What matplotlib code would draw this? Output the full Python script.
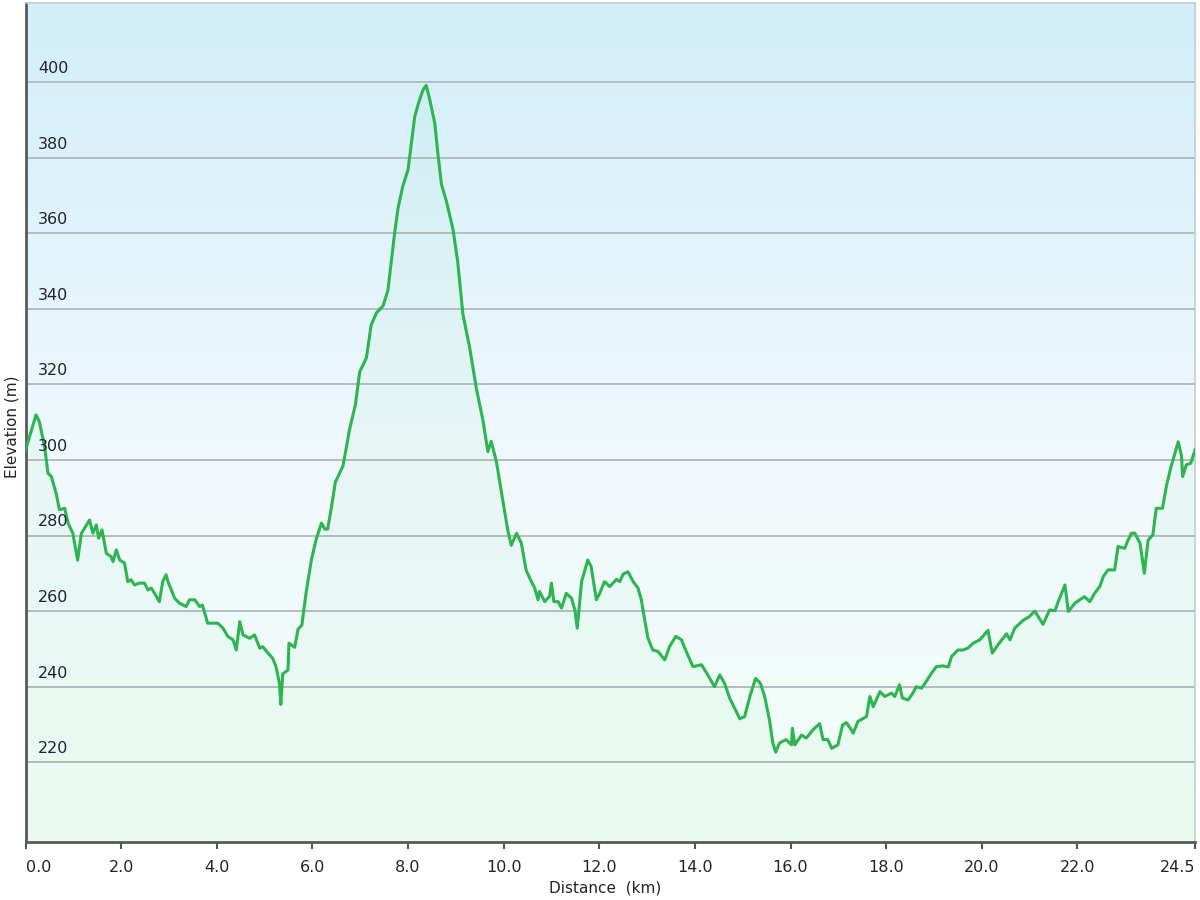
import numpy as np
import matplotlib.pyplot as plt
from matplotlib.colors import LinearSegmentedColormap
from matplotlib.transforms import blended_transform_factory

# elevation profile
dist_km = [0.00, 0.22, 0.29, 0.40, 0.47, 0.54, 0.64, 0.71, 0.82, 0.89, 0.99, 1.09, 1.17, 1.34, 1.41,
           1.48, 1.53, 1.60, 1.69, 1.79, 1.83, 1.90, 1.97, 2.07, 2.14, 2.21, 2.28, 2.38, 2.49, 2.56,
           2.63, 2.70, 2.80, 2.87, 2.94, 2.98, 3.12, 3.22, 3.36, 3.43, 3.54, 3.64, 3.70, 3.81, 4.02,
           4.13, 4.23, 4.34, 4.41, 4.48, 4.55, 4.69, 4.79, 4.90, 4.96, 5.07, 5.17, 5.24, 5.31, 5.34,
           5.38, 5.49, 5.51, 5.63, 5.70, 5.78, 5.87, 5.98, 6.08, 6.19, 6.26, 6.32, 6.40, 6.48, 6.64,
           6.78, 6.90, 6.99, 7.13, 7.23, 7.34, 7.48, 7.58, 7.72, 7.79, 7.89, 8.00, 8.07, 8.14, 8.21,
           8.31, 8.38, 8.45, 8.56, 8.63, 8.70, 8.80, 8.94, 9.04, 9.15, 9.29, 9.43, 9.57, 9.67, 9.74,
           9.85, 9.99, 10.09, 10.16, 10.27, 10.37, 10.47, 10.58, 10.65, 10.72, 10.75, 10.86, 10.96, 11.00, 11.05,
           11.14, 11.21, 11.31, 11.42, 11.49, 11.54, 11.63, 11.76, 11.83, 11.94, 12.01, 12.11, 12.22, 12.36, 12.43,
           12.50, 12.60, 12.71, 12.81, 12.88, 12.95, 13.02, 13.12, 13.23, 13.37, 13.47, 13.60, 13.72, 13.82, 13.96,
           14.14, 14.27, 14.41, 14.52, 14.62, 14.73, 14.83, 14.94, 15.04, 15.15, 15.27, 15.37, 15.46, 15.56, 15.63,
           15.69, 15.77, 15.91, 16.02, 16.04, 16.09, 16.23, 16.33, 16.47, 16.61, 16.68, 16.78, 16.86, 16.99, 17.09,
           17.17, 17.27, 17.31, 17.41, 17.59, 17.66, 17.73, 17.87, 17.97, 18.11, 18.18, 18.28, 18.34, 18.46, 18.56,
           18.63, 18.74, 18.84, 18.95, 19.05, 19.19, 19.30, 19.37, 19.50, 19.61, 19.71, 19.82, 19.96, 20.13, 20.22,
           20.34, 20.52, 20.59, 20.69, 20.86, 21.00, 21.11, 21.28, 21.42, 21.53, 21.60, 21.74, 21.81, 21.95, 22.05,
           22.15, 22.26, 22.36, 22.47, 22.54, 22.64, 22.78, 22.85, 22.99, 23.06, 23.13, 23.20, 23.31, 23.40, 23.48,
           23.58, 23.65, 23.78, 23.86, 23.95, 24.04, 24.11, 24.18, 24.20, 24.28, 24.37, 24.46]
elev_m = [302.6, 311.9, 310.1, 303.5, 296.5, 295.6, 291.2, 286.8, 287.2, 283.3, 280.6, 273.5, 280.6, 284.1, 280.6,
          282.8, 279.3, 281.5, 275.3, 274.4, 273.1, 276.2, 273.5, 272.7, 267.8, 268.3, 266.9, 267.4, 267.4, 265.6,
          266.1, 264.7, 262.5, 267.8, 269.6, 267.8, 263.4, 262.1, 261.2, 263.0, 263.0, 261.2, 261.6, 256.8, 256.8,
          255.5, 253.3, 252.4, 249.7, 257.2, 253.7, 252.8, 253.7, 250.2, 250.6, 248.9, 247.5, 245.3, 240.9, 235.3,
          243.4, 244.4, 251.5, 250.4, 255.2, 256.3, 265.0, 273.6, 279.0, 283.3, 281.7, 281.7, 287.6, 294.1, 298.4,
          308.2, 314.6, 323.3, 327.0, 335.7, 338.9, 340.8, 344.9, 360.0, 366.5, 372.4, 376.7, 383.7, 390.8, 394.0,
          397.8, 399.1, 395.6, 389.1, 380.5, 372.9, 368.6, 361.1, 352.4, 338.4, 329.7, 318.9, 310.3, 302.2, 304.9,
          299.5, 288.7, 281.2, 277.4, 280.6, 278.0, 270.9, 267.8, 266.1, 263.0, 265.2, 262.5, 263.9, 267.4, 262.5,
          262.5, 260.8, 264.7, 263.4, 260.3, 255.5, 267.8, 273.5, 271.8, 263.0, 264.7, 267.8, 266.5, 268.4, 267.8,
          269.8, 270.4, 267.8, 266.1, 263.0, 257.7, 252.8, 249.7, 249.3, 247.1, 250.6, 253.3, 252.4, 249.3, 245.3,
          245.8, 243.1, 240.0, 243.1, 240.9, 236.9, 234.3, 231.5, 232.1, 237.4, 242.2, 240.9, 237.4, 231.2, 225.1,
          222.7, 225.1, 226.0, 224.6, 229.0, 224.6, 227.2, 226.4, 228.6, 230.2, 226.0, 226.0, 223.7, 224.6, 229.9,
          230.5, 228.6, 227.7, 230.8, 232.1, 237.4, 234.7, 238.7, 237.4, 238.3, 237.4, 240.5, 237.0, 236.5, 238.3,
          240.0, 239.6, 241.4, 243.6, 245.3, 245.5, 245.2, 248.0, 249.7, 249.7, 250.2, 251.5, 252.4, 254.9, 248.9,
          251.1, 254.0, 252.4, 255.5, 257.5, 258.6, 260.0, 256.5, 260.3, 260.1, 262.5, 266.9, 259.9, 262.1, 263.0,
          263.8, 262.5, 264.7, 266.5, 269.1, 270.9, 270.9, 277.1, 276.6, 278.8, 280.6, 280.6, 278.0, 270.0, 278.8,
          280.2, 287.2, 287.2, 293.0, 297.8, 301.8, 304.8, 300.9, 295.6, 298.7, 299.1, 302.6]

xticks = [0, 2, 4, 6, 8, 10, 12, 14, 16, 18, 20, 22, 24.46]
xticklabels = ['0.0', '2.0', '4.0', '6.0', '8.0', '10.0', '12.0', '14.0', '16.0', '18.0', '20.0', '22.0', '24.5']
yticks = [220, 240, 260, 280, 300, 320, 340, 360, 380, 400]

fig = plt.figure(figsize=(12, 9), dpi=100)
ax = fig.add_axes([25.5 / 1200, 58 / 900, 1169.5 / 1200, 839 / 900])
ax.set_xlim(0, 24.46)
ax.set_ylim(198.9, 420.9)

# background gradient: light blue on top, near white middle, mint at bottom
bg = LinearSegmentedColormap.from_list('bg', [(0.0, '#f2fdf6'), (0.45, '#f1f9fd'), (1.0, '#d1eef9')])
grad = np.linspace(0, 1, 256).reshape(-1, 1)
ax.imshow(grad, extent=[0, 1, 0, 1], transform=ax.transAxes, origin='lower',
          aspect='auto', cmap=bg, zorder=0)

ax.set_yticks(yticks)
ax.grid(axis='y', color='#b4bcc0', linewidth=1.4, zorder=1)
ax.set_axisbelow(True)

ax.fill_between(dist_km, elev_m, 198.9, color='#30d070', alpha=0.045, zorder=2, linewidth=0)
ax.plot(dist_km, elev_m, color='#2db54f', linewidth=2.2, zorder=3)

# y labels drawn inside the plot, just above each grid line
trans = blended_transform_factory(ax.transAxes, ax.transData)
for v in yticks:
    ax.text(0.0105, v + 1.6, str(v), transform=trans, fontsize=11.5, color='#222233',
            ha='left', va='bottom', zorder=4)
ax.tick_params(axis='y', length=0, labelleft=False)

ax.set_xticks(xticks)
ax.set_xticklabels(xticklabels, fontsize=11.5, color='#222233')
ax.tick_params(axis='x', length=5, width=1.5, color='#555555', pad=8)
labs = ax.get_xticklabels()
labs[0].set_ha('left')
labs[-1].set_ha('right')

for side in ['left', 'bottom']:
    ax.spines[side].set_color('#5a5a5a')
    ax.spines[side].set_linewidth(2)
for side in ['top', 'right']:
    ax.spines[side].set_color('#c8cccf')
    ax.spines[side].set_linewidth(1.2)

fig.text(605 / 1200, 1 - 888 / 900, 'Distance  (km)', ha='center', va='center', fontsize=11, color='#222233')
fig.text(12 / 1200, 1 - 427 / 900, 'Elevation (m)', ha='center', va='center', rotation=90,
         fontsize=11, color='#222233')

fig.savefig('out.png', dpi=100)
